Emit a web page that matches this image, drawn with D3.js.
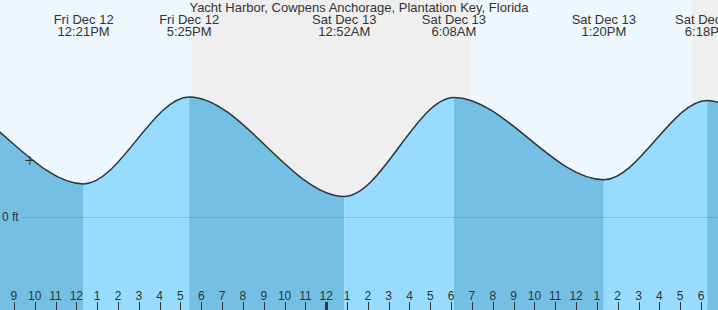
<!DOCTYPE html>
<html>
<head>
<meta charset="utf-8">
<script src="https://cdn.jsdelivr.net/npm/d3@7"></script>
<style>
  body { margin: 0; background: #fff; }
  svg { display: block; }
  text { font-family: "Liberation Sans", Arial, sans-serif; font-size: 12px; fill: #333; }
  .big { font-size: 13px; }
</style>
</head>
<body>
<div id="chart"></div>
<script>
// tide extremes (first two and last two are off the chart edges)
var tideTimes = ["2025-12-11 23:40", "2025-12-12 05:15", "2025-12-12 12:21", "2025-12-12 17:25", "2025-12-13 00:52",
                 "2025-12-13 06:08", "2025-12-13 13:20", "2025-12-13 18:18", "2025-12-14 00:45", "2025-12-14 06:50"];
var tideHeights = [0.4, 2.0, 0.56, 2.01, 0.35, 2.0, 0.63, 1.95, 0.4, 2.0];

// labels shown at top for the visible extremes
var labelTimes = ["2025-12-12 12:21", "2025-12-12 17:25", "2025-12-13 00:52",
                  "2025-12-13 06:08", "2025-12-13 13:20", "2025-12-13 18:18"];
var labelDays = ["Fri Dec 12", "Fri Dec 12", "Sat Dec 13", "Sat Dec 13", "Sat Dec 13", "Sat Dec 13"];
var labelClock = ["12:21PM", "5:25PM", "12:52AM", "6:08AM", "1:20PM", "6:18PM"];

// night time (sunset -> sunrise)
var nightStarts = ["2025-12-12 17:31", "2025-12-13 17:33"];
var nightEnds = ["2025-12-13 06:55", "2025-12-14 06:55"];

// current time marker
var nowTime = "2025-12-12 09:46";
var nowHeight = 0.95;

var title = "Yacht Harbor, Cowpens Anchorage, Plantation Key, Florida";

var svgWidth = 718;
var svgHeight = 310;

var parse = d3.timeParse("%Y-%m-%d %H:%M");

var svg = d3.select("#chart")
  .append("svg")
  .attr("width", svgWidth)
  .attr("height", svgHeight);

// scales
var xScale = d3.scaleTime()
  .domain([parse("2025-12-12 08:20"), parse("2025-12-13 18:49")])
  .range([0, svgWidth]);

var yScale = d3.scaleLinear()
  .domain([-1.542, 3.625])
  .range([svgHeight, 0]);

var tide = tideTimes.map(function(t, i) {
  return { time: parse(t), height: tideHeights[i] };
});

// day background
svg.append("rect")
  .attr("width", svgWidth)
  .attr("height", svgHeight)
  .attr("fill", "#eef7fe");

// night bands
svg.selectAll(".night")
  .data(nightStarts)
  .enter()
  .append("rect")
  .attr("class", "night")
  .attr("x", d => xScale(parse(d)))
  .attr("y", 0)
  .attr("width", (d, i) => xScale(parse(nightEnds[i])) - xScale(parse(d)))
  .attr("height", svgHeight)
  .attr("fill", "#efefef");

var area = d3.area()
  .x(d => xScale(d.time))
  .y0(svgHeight)
  .y1(d => yScale(d.height))
  .curve(d3.curveMonotoneX);

var line = d3.line()
  .x(d => xScale(d.time))
  .y(d => yScale(d.height))
  .curve(d3.curveMonotoneX);

// one clipped area per rise / fall segment
var segments = d3.pairs(tide);
var defs = svg.append("defs");
segments.forEach(function(s, i) {
  defs.append("clipPath")
    .attr("id", "seg" + i)
    .append("rect")
    .attr("x", xScale(s[0].time))
    .attr("y", 0)
    .attr("width", xScale(s[1].time) - xScale(s[0].time))
    .attr("height", svgHeight);
});

svg.selectAll(".seg")
  .data(segments)
  .enter()
  .append("path")
  .attr("class", "seg")
  .attr("clip-path", (d, i) => "url(#seg" + i + ")")
  .attr("d", area(tide))
  .attr("fill", d => d[1].height < d[0].height ? "#73c0e4" : "#97dcfe");

// zero line
svg.append("line")
  .attr("x1", 22)
  .attr("x2", svgWidth)
  .attr("y1", yScale(0))
  .attr("y2", yScale(0))
  .attr("stroke", "rgba(0,0,0,0.12)")
  .attr("stroke-width", 1);

svg.append("text")
  .attr("x", 2)
  .attr("y", yScale(0) + 4)
  .text("0 ft");

// tide curve
svg.append("path")
  .attr("d", line(tide))
  .attr("fill", "none")
  .attr("stroke", "#333")
  .attr("stroke-width", 1.5);

// now marker
var nx = xScale(parse(nowTime));
var ny = yScale(nowHeight);
svg.append("path")
  .attr("d", `M${nx - 4.5},${ny}H${nx + 4.5}M${nx},${ny - 4.5}V${ny + 4.5}`)
  .attr("stroke", "#333")
  .attr("stroke-width", 1);

// hour ticks
var hours = d3.timeHour.range(xScale.domain()[0], xScale.domain()[1]);
var fmtHour = d3.timeFormat("%-I");

svg.selectAll(".tick")
  .data(hours)
  .enter()
  .append("line")
  .attr("x1", d => Math.round(xScale(d)) + 0.5)
  .attr("x2", d => Math.round(xScale(d)) + 0.5)
  .attr("y1", 302)
  .attr("y2", svgHeight)
  .attr("stroke", "#333")
  .attr("stroke-width", d => d.getHours() === 0 ? 3 : 1);

svg.selectAll(".hourLabel")
  .data(hours)
  .enter()
  .append("text")
  .attr("x", d => xScale(d))
  .attr("y", 300)
  .attr("text-anchor", "middle")
  .text(d => fmtHour(d));

// title
svg.append("text")
  .attr("class", "big")
  .attr("x", svgWidth / 2)
  .attr("y", 12)
  .attr("text-anchor", "middle")
  .text(title);

// extreme labels
var labels = svg.selectAll(".tideLabel")
  .data(labelTimes)
  .enter()
  .append("g")
  .attr("transform", d => `translate(${xScale(parse(d))},0)`);

labels.append("text")
  .attr("class", "big")
  .attr("y", 24)
  .attr("text-anchor", "middle")
  .text((d, i) => labelDays[i]);

labels.append("text")
  .attr("class", "big")
  .attr("y", 36)
  .attr("text-anchor", "middle")
  .text((d, i) => labelClock[i]);
</script>
</body>
</html>
